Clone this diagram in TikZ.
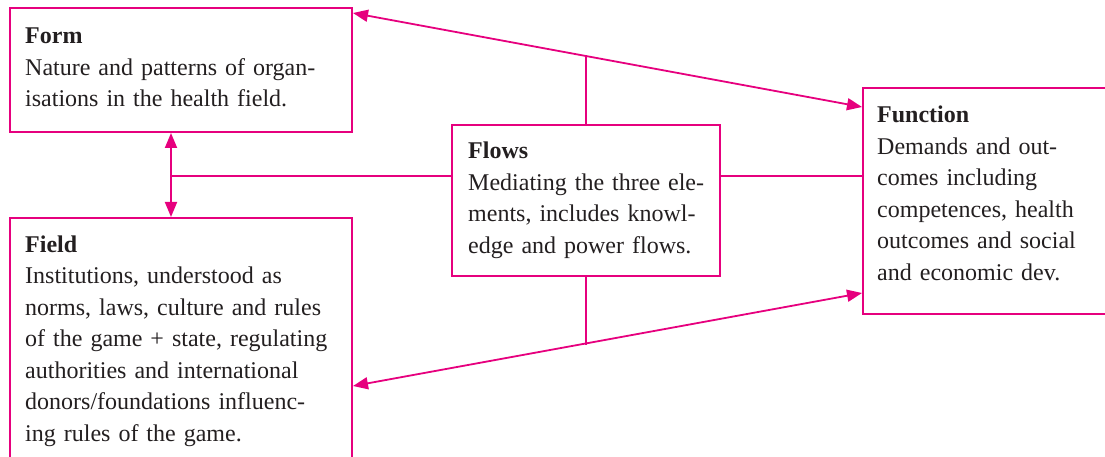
\documentclass[tikz,border=0pt]{standalone}
\usepackage{fontspec}
\setmainfont{Liberation Serif}
\usetikzlibrary{arrows.meta}
\definecolor{pink}{RGB}{230,0,126}
\definecolor{ink}{RGB}{35,31,32}
\tikzset{
  box/.style={draw=pink, line width=2pt, rectangle, inner sep=0pt},
  txt/.style={inner sep=0pt, text width=420pt, align=left, text=ink,
              font=\fontsize{24}{31.5}\selectfont, anchor=base west},
  conn/.style={draw=pink, line width=1.8pt},
  dbl/.style={conn, {Triangle[length=15pt,width=12pt]}-{Triangle[length=15pt,width=12pt]}},
}
\begin{document}
\begin{tikzpicture}[x=1pt,y=-1pt]
\useasboundingbox (0,0) rectangle (1105,457);
\clip (0,0) rectangle (1105,457);
% boxes
\node[box, minimum width=342pt, minimum height=124pt] (form) at (181,70) {};
\node[box, minimum width=342pt, minimum height=252pt] (field) at (181,344) {};
\node[box, minimum width=268pt, minimum height=151pt] (flows) at (586,200.5) {};
\node[box, minimum width=252pt, minimum height=226pt] (function) at (989,201) {};
% texts
\node[txt] (formtxt) at (25,44) {\textbf{Form}\\Nature and patterns of organ-\\isations in the health field.};
\node[txt] (fieldtxt) at (25,252) {\textbf{Field}\\Institutions, understood as\\norms, laws, culture and rules\\of the game + state, regulating\\authorities and international\\donors/foundations influenc-\\ing rules of the game.};
\node[txt] (flowstxt) at (468,159) {\textbf{Flows}\\Mediating the three ele-\\ments, includes knowl-\\edge and power flows.};
\node[txt] (functiontxt) at (877,123) {\textbf{Function}\\Demands and out-\\comes including\\competences, health\\outcomes and social\\and economic dev.};
% connectors
\coordinate (ff) at (171,176);
\draw[dbl] ([yshift=-6pt]form.north east) -- ([yshift=-20pt]function.north west);
\draw[dbl] ([yshift=-169pt]field.north east) -- ([yshift=22pt]function.south west);
\draw[conn] (flows.north) -- ++(0,-68);
\draw[conn] (flows.south) -- ++(0,67.5);
\draw[dbl] (ff |- form.south) -- (ff |- field.north);
\draw[conn] (flows.west |- ff) -- (ff);
\draw[conn] (flows.east |- ff) -- (function.west |- ff);
\end{tikzpicture}
\end{document}
